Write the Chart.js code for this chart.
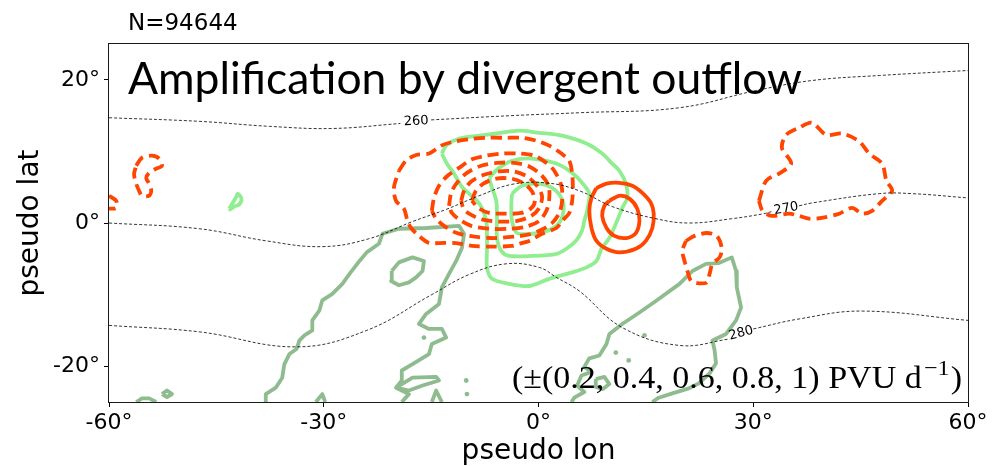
<!DOCTYPE html>
<html>
<head>
<meta charset="utf-8">
<script src="https://cdn.jsdelivr.net/npm/chart.js@4.4.1/dist/chart.umd.min.js"></script>
<style>
  html, body { margin: 0; padding: 0; background: #fff; }
  #wrap { width: 992px; height: 466px; }
</style>
</head>
<body>
<div id="wrap"><canvas id="chart" width="992" height="466"></canvas></div>
<script>
// axis ticks (degrees)
const LON_TICKS = [-60, -30, 0, 30, 60];
const LAT_TICKS = [-20, 0, 20];

// potential temperature isolines [lon, lat]; null breaks the line at its label
const THETA_260 = [[-60, 14.7], [-47.4, 14.2], [-37.6, 13.5], [-28.8, 13.2], [-19.3, 13.9], null,
  [-15.0, 14.4], [-3.7, 15.0], [5.7, 15.4], [19.7, 16.1], [30.4, 18.5], [38.2, 19.9], [47.6, 20.6], [60, 21.3]];
const THETA_270 = [[-60, 0.0], [-47.4, -0.8], [-38.0, -2.5], [-30.2, -3.3], [-23.7, -2.2], [-17.6, 0.2],
  [-12.9, 1.9], [-8.3, 3.8], [-3.7, 5.4], [1.1, 5.6], [5.7, 4.5], [10.3, 2.3], [16.4, 0.6], [21.1, 0.0],
  [27.0, 0.6], [31.5, 1.3], [32.6, 1.6], null, [36.4, 2.4], [38.2, 2.8], [47.6, 4.1], [52.2, 4.1], [60, 3.5]];
const THETA_280 = [[-60, -14.3], [-47.4, -15.2], [-33.8, -17.3], [-24.0, -15.0], [-14.9, -10.0], [-9.7, -7.2],
  [-4.5, -5.7], [0.1, -6.2], [2.5, -7.6], [5.7, -9.5], [11.7, -14.6], [19.7, -17.1], [26.7, -16.2], null,
  [30.0, -14.8], [36.4, -13.4], [45.2, -12.3], [60, -13.6]];
const THETA_LABELS = ['260', '270', '280'];
const THETA_LABEL_AT = [[-17.1, 14.2], [34.6, 2.0], [28.3, -15.4]];

// negative PV tendency (dashed), -0.2 ... -1 PVU/d
const NEG_1 = [[-19.5, 7.3], [-18.5, 8.7], [-17.1, 9.5], [-15.3, 9.7], [-13.6, 10.8], [-12.1, 11.3], [-9.7, 11.7],
  [-7.3, 11.9], [-4.5, 11.9], [-2.3, 11.9], [-0.3, 11.5], [1.5, 10.8], [3.2, 9.7], [4.3, 8.7], [4.7, 6.9],
  [4.8, 4.9], [4.7, 3.1], [4.3, 1.4], [3.3, 0.3], [2.5, -0.7], [0.5, -1.5], [-1.3, -2.5], [-2.7, -2.9],
  [-3.7, -3.2], [-6.5, -3.3], [-9.3, -3.2], [-11.5, -2.8], [-13.9, -2.8], [-15.3, -2.8], [-16.7, -1.8],
  [-17.8, -0.7], [-18.3, 0.3], [-18.8, 2.0], [-19.9, 3.1], [-20.2, 4.9]];
const NEG_2 = [[-14.9, 1.7], [-14.6, 3.5], [-13.9, 5.2], [-12.7, 6.6], [-11.1, 7.7], [-9.3, 8.9], [-7.3, 9.4],
  [-5.1, 9.7], [-2.7, 9.7], [-0.6, 9.4], [1.1, 8.4], [2.2, 7.3], [3.2, 5.2], [3.3, 3.1], [2.9, 1.4], [1.9, 0.0],
  [0.5, -0.9], [-1.3, -1.6], [-3.4, -1.9], [-6.2, -2.1], [-9.0, -1.9], [-11.4, -1.4], [-13.2, -0.4], [-14.3, 0.6]];
const NEG_3 = [[-12.5, 2.4], [-12.2, 4.2], [-11.4, 5.6], [-10.0, 7.0], [-8.0, 8.0], [-5.8, 8.4], [-3.4, 8.4],
  [-1.3, 7.9], [0.4, 6.7], [1.4, 5.2], [1.5, 3.4], [1.1, 1.7], [0.1, 0.3], [-1.7, -0.5], [-4.1, -0.8],
  [-6.9, -0.8], [-9.4, -0.4], [-11.1, 0.5], [-12.1, 1.4]];
const NEG_4 = [[-10.8, 3.1], [-10.4, 4.5], [-9.4, 5.8], [-7.7, 6.7], [-5.5, 7.2], [-3.4, 7.2], [-1.6, 6.5],
  [-0.2, 5.2], [0.5, 3.7], [0.1, 2.1], [-1.0, 1.0], [-3.0, 0.3], [-5.5, 0.2], [-7.9, 0.5], [-9.7, 1.3], [-10.5, 2.1]];
const NEG_5 = [[-9.3, 3.1], [-8.8, 4.4], [-7.7, 5.5], [-5.9, 6.2], [-3.8, 6.2], [-2.0, 5.5], [-0.9, 4.4],
  [-0.5, 3.1], [-1.0, 2.1], [-2.4, 1.4], [-4.8, 1.3], [-6.9, 1.4], [-8.4, 2.1]];
const NEG_EAST = [[30.8, 3.1], [31.8, 5.9], [33.6, 6.9], [35.3, 8.3], [34.0, 10.5], [34.6, 12.3], [36.4, 13.3],
  [38.2, 14.0], [40.2, 12.3], [42.4, 12.5], [44.8, 11.4], [46.2, 9.7], [48.0, 8.3], [48.6, 5.9], [49.4, 4.5],
  [48.0, 3.1], [46.6, 1.7], [45.2, 1.3], [43.8, 2.1], [42.0, 1.3], [39.6, 0.7], [37.8, 0.6], [36.4, 1.0],
  [35.0, 1.3], [32.6, 1.0], [31.3, 1.7]];
const NEG_SOUTH = [[20.6, -2.5], [21.8, -1.8], [23.5, -1.4], [24.9, -1.8], [25.6, -3.5], [25.3, -4.8],
  [24.3, -5.7], [23.9, -7.1], [23.5, -8.3], [22.2, -8.4], [21.3, -8.1], [20.8, -6.7], [20.4, -5.3], [20.1, -3.9]];
const NEG_WEST = [[-56.2, 8.0], [-55.4, 9.1], [-54.0, 9.4], [-53.0, 9.0], [-52.6, 8.0], [-53.4, 7.6],
  [-54.4, 7.0], [-54.8, 6.3], [-54.4, 5.5], [-54.1, 4.5], [-54.4, 3.8], [-55.4, 3.8], [-55.8, 4.5],
  [-56.2, 5.5], [-56.5, 6.8]];
const NEG_EDGE = [[-60, 3.8], [-59.0, 3.1], [-59.0, 2.1], [-59.7, 2.0], [-60, 2.0]];

// positive PV tendency (solid)
const POS_1 = [[8.1, 4.9], [9.5, 5.5], [11.3, 5.6], [13.1, 5.2], [14.5, 4.2], [15.7, 2.8], [16.1, 1.3],
  [15.9, -0.7], [15.0, -2.5], [13.6, -3.6], [11.3, -4.1], [9.5, -3.6], [8.1, -2.5], [7.4, -0.7], [7.1, 1.7], [7.4, 3.5]];
const POS_2 = [[9.9, 3.1], [11.3, 3.8], [12.7, 3.4], [13.8, 2.0], [14.1, 0.3], [13.6, -1.4], [12.3, -2.1],
  [10.6, -1.8], [9.5, -0.7], [8.9, 1.0], [9.2, 2.4]];

// divergent outflow composite (light green)
const DIV_1 = [[-13.5, 9.7], [-12.9, 10.8], [-11.1, 11.8], [-8.3, 12.2], [-5.9, 12.5], [-2.7, 12.9], [0.1, 12.6],
  [3.3, 12.2], [6.7, 11.1], [8.9, 9.7], [10.3, 8.3], [11.3, 7.3], [12.2, 5.5], [12.4, 3.5], [11.7, 2.1],
  [11.1, 0.6], [9.9, -2.1], [8.8, -3.6], [8.1, -5.3], [6.7, -6.2], [4.7, -6.9], [1.5, -7.8], [-1.3, -8.8],
  [-4.1, -8.5], [-6.5, -7.8], [-7.2, -6.2], [-7.2, -3.9], [-7.2, -1.5], [-7.3, 0.3], [-7.9, 2.1], [-8.6, 3.1],
  [-9.7, 4.1], [-10.8, 5.2], [-11.8, 6.9], [-12.8, 8.3]];
const DIV_2 = [[-6.9, 6.3], [-5.5, 7.7], [-3.7, 8.7], [-0.9, 9.0], [2.5, 8.3], [4.7, 7.0], [6.1, 5.6], [7.1, 4.1],
  [6.8, 1.7], [6.4, 0.3], [6.1, -1.0], [5.3, -2.4], [3.9, -3.6], [2.5, -4.3], [-0.9, -4.6], [-4.1, -4.6],
  [-5.2, -3.9], [-5.8, -2.1], [-5.8, 0.7], [-5.9, 3.1], [-6.5, 4.9]];
const DIV_3 = [[-3.7, 4.1], [-2.3, 5.2], [0.1, 5.5], [1.9, 4.9], [3.2, 3.5], [3.5, 1.7], [2.8, -0.1], [1.2, -1.1],
  [-0.9, -1.5], [-3.0, -1.4], [-3.7, 0.3], [-3.8, 2.4]];
const DIV_WEST = [[-43.2, 2.0], [-42.8, 2.7], [-42.2, 3.7], [-42.0, 4.1], [-41.5, 3.4], [-41.8, 2.6], [-42.5, 2.3], [-43.1, 1.9]];

// climatological outflow (dark sea green)
const CLIM_WEST = [[-38.1, -25], [-38.1, -23.9], [-36.7, -23.0], [-35.8, -21.6], [-35.5, -19.7], [-34.8, -18.3],
  [-33.8, -17.6], [-33.4, -16.4], [-32.7, -15.7], [-31.6, -15.0], [-31.6, -13.6], [-30.6, -12.2], [-30.2, -10.8],
  [-28.8, -9.9], [-27.4, -8.5], [-26.4, -7.1], [-25.0, -5.3], [-24.0, -4.1], [-22.3, -2.9], [-21.8, -1.5],
  [-19.5, -0.8], [-15.7, -0.7], [-11.1, -0.4], [-10.4, -1.5], [-10.7, -3.5], [-11.5, -5.3], [-12.5, -7.1],
  [-13.5, -9.0], [-13.9, -11.3], [-15.7, -12.7], [-16.7, -14.1], [-15.3, -14.8], [-13.5, -14.8], [-12.9, -16.0],
  [-14.9, -16.9], [-15.3, -18.3], [-17.6, -19.7], [-19.1, -20.6], [-19.1, -22.0], [-19.9, -23.0], [-18.1, -23.9], [-19.1, -25]];
const CLIM_ISLAND = [[-20.5, -6.7], [-19.5, -5.5], [-17.6, -4.8], [-16.0, -5.3], [-16.2, -6.7], [-17.1, -7.6],
  [-18.1, -8.3], [-19.5, -8.7], [-20.6, -8.1]];
const CLIM_LENS = [[-19.9, -23.0], [-17.6, -21.6], [-14.3, -21.5], [-13.9, -22.0], [-16.2, -22.7], [-18.1, -23.4]];
const CLIM_SPIKE = [[-14.9, -25], [-14.3, -23.4], [-13.5, -25]];
const CLIM_SW = [[-56.2, -25], [-55.4, -24.5], [-54.4, -24.5], [-53.4, -25]];
const CLIM_DIAMOND = [[-52.6, -23.9], [-51.9, -23.4], [-51.2, -23.9], [-51.9, -24.3]];
const CLIM_NOTCH = [[-31.1, -25], [-30.2, -23.9], [-29.8, -25]];
const CLIM_EAST = [[4.6, -25], [5.0, -24.4], [6.4, -23.6], [5.4, -22.7], [6.0, -21.3], [7.4, -20.8], [6.4, -20.1],
  [7.1, -18.9], [8.5, -18.5], [9.5, -16.9], [9.9, -15.5], [11.7, -14.1], [14.1, -12.5], [16.4, -10.9],
  [19.7, -8.5], [21.5, -6.7], [23.4, -5.7], [25.2, -5.6], [27.0, -4.8], [27.6, -6.7], [27.7, -9.0], [28.3, -11.8],
  [27.6, -13.6], [26.2, -15.5], [24.3, -16.4], [24.6, -17.8], [24.8, -19.6], [23.9, -21.0], [22.4, -22.4],
  [21.0, -23.1], [18.7, -23.8], [16.8, -24.4], [15.9, -25]];
const CLIM_EAST_LOOP = [[8.0, -21.8], [9.2, -21.5], [9.9, -22.5], [9.0, -23.2], [8.0, -22.9]];
const CLIM_DOTS = [[-16.0, -16.0], [-10.1, -22.0], [-10.0, -23.9], [14.8, -15.7], [10.8, -18.1], [12.6, -19.2]];

const RED = '#ff4500';
const LIGHT = '#90ee90';
const SEA = '#8fbc8f';
const SANS = '"DejaVu Sans", sans-serif';

const toXY = arr => arr.map(p => (p ? { x: p[0], y: p[1] } : { x: null, y: null }));
const ring = arr => toXY(arr.concat([arr[0]]));

function contour(data, color, opts = {}) {
  return {
    data,
    showLine: true,
    borderColor: color,
    borderWidth: opts.width ?? 3.8,
    borderDash: opts.dash ?? [],
    borderCapStyle: 'butt',
    borderJoinStyle: 'round',
    tension: opts.tension ?? 0.3,
    pointRadius: 0,
    fill: false,
    clip: 0,
    order: opts.order ?? 1
  };
}

const dashed = [11, 6];
const datasets = [
  // theta isolines on top
  contour(toXY(THETA_260), '#000', { width: 0.8, dash: [3, 2], tension: 0.4, order: 0 }),
  contour(toXY(THETA_270), '#000', { width: 0.8, dash: [3, 2], tension: 0.4, order: 0 }),
  contour(toXY(THETA_280), '#000', { width: 0.8, dash: [3, 2], tension: 0.4, order: 0 }),
  // red tendencies
  ...[NEG_1, NEG_2, NEG_3, NEG_4, NEG_5, NEG_EAST, NEG_SOUTH, NEG_WEST].map(r => contour(ring(r), RED, { dash: dashed, order: 1 })),
  contour(toXY(NEG_EDGE), RED, { dash: dashed, order: 1 }),
  ...[POS_1, POS_2].map(r => contour(ring(r), RED, { order: 1 })),
  // green outflow contours
  ...[DIV_1, DIV_2, DIV_3, DIV_WEST].map(r => contour(ring(r), LIGHT, { order: 2 })),
  ...[CLIM_ISLAND, CLIM_LENS, CLIM_DIAMOND, CLIM_EAST_LOOP].map(r => contour(ring(r), SEA, { tension: 0, order: 3 })),
  ...[CLIM_WEST, CLIM_SPIKE, CLIM_SW, CLIM_NOTCH, CLIM_EAST].map(r => contour(toXY(r), SEA, { tension: 0, order: 3 })),
  {
    data: toXY(CLIM_DOTS),
    showLine: false,
    pointRadius: 2.4,
    pointBorderWidth: 0,
    backgroundColor: SEA,
    order: 3
  }
];

const annotations = {
  id: 'annotations',
  afterDraw(chart) {
    const { ctx, chartArea: a, scales: { x, y } } = chart;
    ctx.save();

    // frame around the map
    ctx.strokeStyle = '#1a1a1a';
    ctx.lineWidth = 1;
    ctx.strokeRect(Math.round(a.left) - 0.5, Math.round(a.top) - 0.5, Math.round(a.width) + 1, Math.round(a.height) + 1);

    // isoline labels
    const rot = [-3, -10, -15];
    ctx.fillStyle = '#000';
    ctx.font = '13px ' + SANS;
    ctx.textAlign = 'center';
    ctx.textBaseline = 'middle';
    THETA_LABELS.forEach((t, i) => {
      ctx.save();
      ctx.translate(x.getPixelForValue(THETA_LABEL_AT[i][0]), y.getPixelForValue(THETA_LABEL_AT[i][1]));
      ctx.rotate(rot[i] * Math.PI / 180);
      ctx.fillText(t, 0, 0);
      ctx.restore();
    });

    // sample size
    ctx.textAlign = 'left';
    ctx.textBaseline = 'alphabetic';
    ctx.font = '23px ' + SANS;
    ctx.fillText('N=94644', 128, 30);

    // panel title, stretched to its box
    ctx.font = '44px Lato, "Open Sans", sans-serif';
    const title = 'Amplification by divergent outflow';
    const tw = ctx.measureText(title).width;
    ctx.save();
    ctx.translate(128, 94);
    ctx.scale(674 / tw, 1);
    ctx.fillText(title, 0, 0);
    ctx.restore();

    // contour interval note
    const base = '31px "Liberation Serif", serif';
    const sup = '22px "Liberation Serif", serif';
    const p1 = '(\u00b1(0.2, 0.4, 0.6, 0.8, 1) PVU d';
    const p2 = '\u22121';
    const p3 = ')';
    ctx.font = base;
    const w1 = ctx.measureText(p1).width;
    const w3 = ctx.measureText(p3).width;
    ctx.font = sup;
    const w2 = ctx.measureText(p2).width + 3;
    const total = w1 + w2 + w3;
    const k = 450 / total;
    ctx.save();
    ctx.translate(962 - 450, 388);
    ctx.scale(k, 1);
    ctx.font = base;
    ctx.fillText(p1, 0, 0);
    ctx.font = sup;
    ctx.fillText(p2, w1 + 2, -13);
    ctx.font = base;
    ctx.fillText(p3, w1 + w2, 0);
    ctx.restore();

    ctx.restore();
  }
};

new Chart(document.getElementById('chart').getContext('2d'), {
  type: 'scatter',
  data: { datasets },
  options: {
    responsive: false,
    animation: false,
    devicePixelRatio: 1,
    layout: { padding: { top: 44, right: 24, left: 0, bottom: 0 } },
    plugins: { legend: { display: false }, tooltip: { enabled: false } },
    scales: {
      x: {
        type: 'linear',
        min: -60,
        max: 60,
        afterBuildTicks: s => { s.ticks = LON_TICKS.map(v => ({ value: v })); },
        afterFit: s => { s.height = 64; },
        ticks: { color: '#000', font: { family: SANS, size: 22 }, padding: 3, maxRotation: 0, autoSkip: false, callback: v => v + '\u00b0' },
        grid: { display: true, drawOnChartArea: false, drawTicks: true, tickLength: 5, color: '#000' },
        border: { display: false },
        title: { display: true, text: 'pseudo lon', color: '#000', font: { family: SANS, size: 28, lineHeight: 1 }, padding: { top: 0, bottom: 0 } }
      },
      y: {
        type: 'linear',
        min: -25,
        max: 25,
        afterBuildTicks: s => { s.ticks = LAT_TICKS.map(v => ({ value: v })); },
        afterFit: s => { s.width = 109; },
        ticks: { color: '#000', font: { family: SANS, size: 22 }, padding: 4, callback: v => v + '\u00b0' },
        grid: { display: true, drawOnChartArea: false, drawTicks: true, tickLength: 5, color: '#000' },
        border: { display: false },
        title: { display: true, text: 'pseudo lat', color: '#000', font: { family: SANS, size: 28, lineHeight: 1 }, padding: { top: 17, bottom: 0 } }
      }
    }
  },
  plugins: [annotations]
});
</script>
</body>
</html>
